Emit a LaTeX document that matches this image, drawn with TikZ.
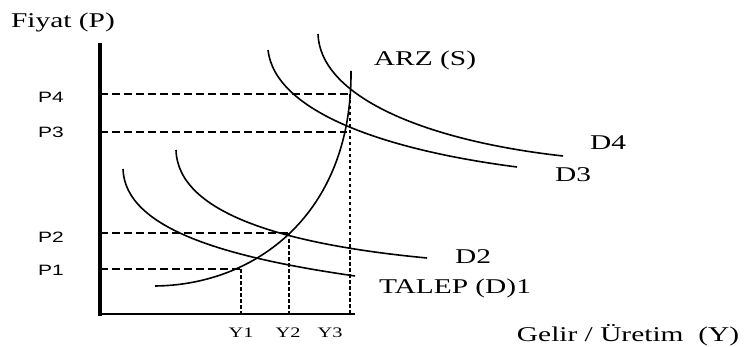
\documentclass[tikz,border=0pt]{standalone}
\usepackage{fontspec}
\setmainfont{Liberation Serif}[FakeStretch=1.4]
\newfontfamily\arialfont{Liberation Sans}[FakeStretch=1.4]
\usetikzlibrary{positioning}

\begin{document}
\begin{tikzpicture}[x=1pt,y=-1pt,
    curve/.style={line width=1.6pt},
    guide/.style={line width=1.1pt,dash pattern=on 8pt off 4pt},
    drop/.style={line width=1.3pt,dash pattern=on 3.5pt off 2.5pt},
    big/.style={font=\fontsize{21}{25}\selectfont,inner sep=0pt},
    plbl/.style={font=\arialfont\fontsize{15}{18}\selectfont,inner sep=0pt},
    ylbl/.style={font=\fontsize{14.5}{17}\selectfont,inner sep=0pt}]
    \useasboundingbox (0,0) rectangle (746,347);
    % axes
    \coordinate (o) at (100,314);
    \coordinate (ytop) at (100,43);
    \coordinate (xend) at (355,314);
    \draw[line width=3.5pt] (ytop) -- (100,315.5);
    \draw[line width=2.8pt] (o) -- (xend);
    % equilibrium points
    \coordinate (e1) at (241,269);
    \coordinate (e2) at (289,233);
    \coordinate (e3) at (347,132);
    \coordinate (e4) at (350,94);
    % demand and supply curves
    \draw[curve] (123,169) .. controls (125,230) and (230,258) .. (355,276);
    \draw[curve] (176,150) .. controls (178,215) and (290,245) .. (427,258);
    \draw[curve] (268,50) .. controls (275,112) and (385,150) .. (517,167);
    \draw[curve] (318,34) .. controls (320,95) and (420,140) .. (563,156);
    \draw[curve] (155,286) .. controls (255,285) and (352,215) .. (351,71);
    % guide lines
    \draw[guide] (o |- e1) -- (e1);
    \draw[guide] (o |- e2) -- (e2);
    \draw[guide] (o |- e3) -- (e3);
    \draw[guide] (o |- e4) -- (e4);
    \draw[drop] (e1) -- (e1 |- o);
    \draw[drop] (e2) -- (e2 |- o);
    \draw[drop] (e4) -- (e4 |- o);
    % labels
    \node[big] (fiyat) at (63,22) {Fiyat (P)};
    \node[plbl] (pfour) at (51,97) {P4};
    \node[plbl] (pthree) at (51,132) {P3};
    \node[plbl] (ptwo) at (51,237) {P2};
    \node[plbl] (pone) at (51,270) {P1};
    \node[ylbl] (yone) at (241,333) {Y1};
    \node[ylbl] (ytwo) at (288,333) {Y2};
    \node[ylbl] (ythree) at (330,333) {Y3};
    \node[big] (arz) at (425,60) {ARZ (S)};
    \node[big] (dfour) at (608,143) {D4};
    \node[big] (dthree) at (573,175) {D3};
    \node[big] (dtwo) at (473,257) {D2};
    \node[big] (talep) at (455,288) {TALEP (D)1};
    \node[big] (gelir) at (628,335) {Gelir / Üretim\ \ (Y)};
\end{tikzpicture}
\end{document}
